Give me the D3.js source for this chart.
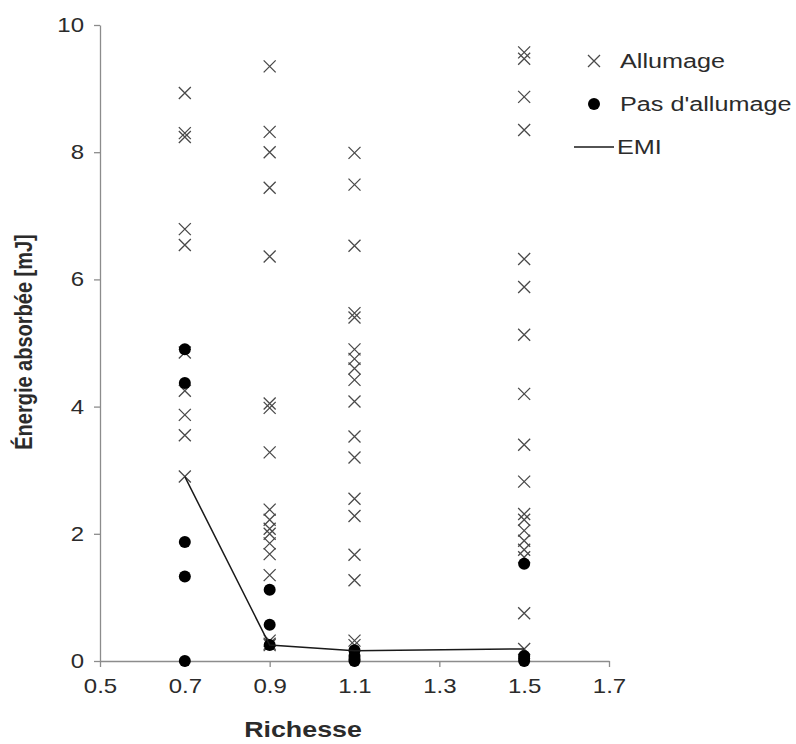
<!DOCTYPE html>
<html>
<head>
<meta charset="utf-8">
<script src="https://cdn.jsdelivr.net/npm/d3@7/dist/d3.min.js"></script>
<style>
  html, body { margin: 0; padding: 0; background: #fff; }
  svg { display: block; font-family: "Liberation Sans", Arial, sans-serif; }
</style>
</head>
<body>
<svg id="chart" width="796" height="744"></svg>
<script>
// ---- Data ----
const richesseLevels = [0.7, 0.9, 1.1, 1.5];

const allumageX = [
  0.7,0.7,0.7,0.7,0.7,0.7,0.7,0.7,0.7,0.7,
  0.9,0.9,0.9,0.9,0.9,0.9,0.9,0.9,0.9,0.9,0.9,0.9,0.9,0.9,0.9,0.9,0.9,0.9,
  1.1,1.1,1.1,1.1,1.1,1.1,1.1,1.1,1.1,1.1,1.1,1.1,1.1,1.1,1.1,1.1,1.1,1.1,
  1.5,1.5,1.5,1.5,1.5,1.5,1.5,1.5,1.5,1.5,1.5,1.5,1.5,1.5,1.5,1.5,1.5,1.5
];
const allumageY = [
  8.93,8.30,8.24,6.79,6.54,4.85,4.25,3.87,3.55,2.90,
  9.35,8.32,8.00,7.44,6.36,4.05,3.98,3.28,2.38,2.22,2.08,2.00,1.85,1.68,1.35,0.32,0.25,0.27,
  7.99,7.49,6.53,5.47,5.40,4.90,4.75,4.60,4.42,4.08,3.53,3.20,2.55,2.28,1.67,1.27,0.32,0.25,
  9.57,9.47,8.87,8.35,6.32,5.88,5.13,4.20,3.40,2.82,2.31,2.22,2.05,1.89,1.75,1.63,0.75,0.19
];

const pasAllumageX = [0.7,0.7,0.7,0.7,0.7, 0.9,0.9,0.9, 1.1,1.1,1.1,1.1, 1.5,1.5,1.5,1.5];
const pasAllumageY = [4.90,4.37,1.87,1.33,0.00, 1.12,0.57,0.25, 0.17,0.08,0.03,0.00, 1.53,0.08,0.04,0.00];

const emiX = [0.7, 0.9, 1.1, 1.5];
const emiY = [2.90, 0.25, 0.16, 0.19];

const xTicks = [0.5, 0.7, 0.9, 1.1, 1.3, 1.5, 1.7];
const yTicks = [0, 2, 4, 6, 8, 10];

const legendLabels = ["Allumage", "Pas d'allumage", "EMI"];
const xTitle = "Richesse";
const yTitle = "Énergie absorbée [mJ]";

// ---- Chart ----
const svg = d3.select("#chart");
const x = d3.scaleLinear().domain([0.5, 1.7]).range([100, 609]);
const y = d3.scaleLinear().domain([0, 10]).range([661, 25]);
const axisColor = "#8c8c8c";
const textColor = "#2b2b2b";
const stretch = 1.2;

// X axis
const gx = svg.append("g").attr("transform", `translate(0,${y(0)})`)
  .call(d3.axisBottom(x).tickValues(xTicks).tickSize(6).tickSizeOuter(0).tickPadding(12)
    .tickFormat(d3.format(".1f")));
gx.select(".domain").attr("stroke", axisColor).attr("stroke-width", 1.3);
gx.selectAll(".tick line").attr("stroke", axisColor).attr("stroke-width", 1.3);
gx.selectAll(".tick text").attr("fill", textColor).style("font-size", "20px")
  .style("font-family", "Liberation Sans, Arial, sans-serif")
  .attr("transform", `scale(${stretch},1)`);

// Y axis
const gy = svg.append("g").attr("transform", `translate(${x(0.5)},0)`)
  .call(d3.axisLeft(y).tickValues(yTicks).tickSize(6).tickSizeOuter(0).tickPadding(10));
gy.select(".domain").attr("stroke", axisColor).attr("stroke-width", 1.3);
gy.selectAll(".tick line").attr("stroke", axisColor).attr("stroke-width", 1.3);
gy.selectAll(".tick text").attr("fill", textColor).style("font-size", "20px")
  .style("font-family", "Liberation Sans, Arial, sans-serif")
  .attr("x", 0).attr("transform", `translate(-16,0) scale(${stretch},1)`);

// Axis titles
svg.append("text").attr("transform", `translate(303,737) scale(1.22,1)`).attr("text-anchor", "middle")
  .attr("font-weight", "bold").attr("font-size", "22px").attr("fill", textColor).text(xTitle);
svg.append("text").attr("transform", "translate(32,342) rotate(-90) scale(1,1.2)").attr("text-anchor", "middle")
  .attr("font-weight", "bold").attr("font-size", "20px").attr("fill", textColor).text(yTitle);

// Cross marker
const cs = 6;
function crossPath(cx, cy) {
  return `M${cx-cs},${cy-cs}L${cx+cs},${cy+cs}M${cx-cs},${cy+cs}L${cx+cs},${cy-cs}`;
}
const allumage = allumageX.map((v, i) => ({ x: v, y: allumageY[i] }));
const pas = pasAllumageX.map((v, i) => ({ x: v, y: pasAllumageY[i] }));
const emi = emiX.map((v, i) => ({ x: v, y: emiY[i] }));

svg.append("g").selectAll("path").data(allumage).join("path")
  .attr("d", d => crossPath(x(d.x), y(d.y)))
  .attr("stroke", "#4a4a4a").attr("stroke-width", 1.3).attr("fill", "none");

svg.append("g").selectAll("circle").data(pas).join("circle")
  .attr("cx", d => x(d.x)).attr("cy", d => y(d.y)).attr("r", 6).attr("fill", "#000");

const line = d3.line().x(d => x(d.x)).y(d => y(d.y));
svg.append("path").datum(emi).attr("d", line)
  .attr("fill", "none").attr("stroke", "#1a1a1a").attr("stroke-width", 1.5);

// Legend
const lg = svg.append("g");
lg.append("path").attr("d", crossPath(594, 61)).attr("stroke", "#4a4a4a").attr("stroke-width", 1.3);
lg.append("circle").attr("cx", 594).attr("cy", 104).attr("r", 6).attr("fill", "#000");
lg.append("line").attr("x1", 574).attr("x2", 614).attr("y1", 147).attr("y2", 147)
  .attr("stroke", "#1a1a1a").attr("stroke-width", 1.5);
const ly = [61, 104, 147];
legendLabels.forEach((t, i) => {
  lg.append("text").attr("transform", `translate(${i === 2 ? 617 : 620},${ly[i]}) scale(${stretch},1)`)
    .attr("dy", "0.35em").attr("font-size", "21px").attr("fill", textColor).text(t);
});
</script>
</body>
</html>
